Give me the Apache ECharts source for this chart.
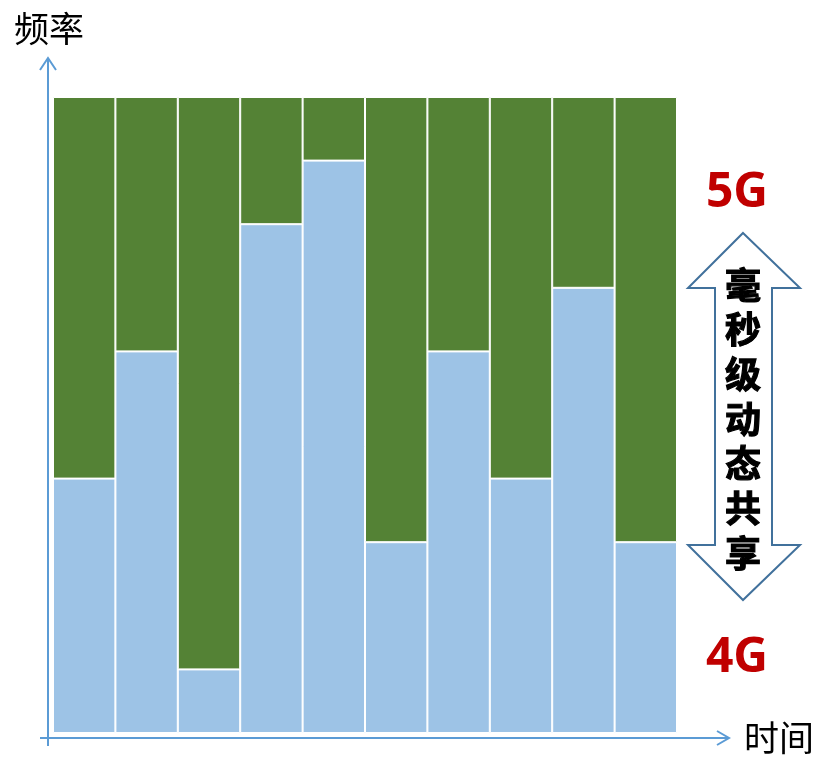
<!DOCTYPE html>
<html>
<head>
<meta charset="utf-8">
<script src="https://cdn.jsdelivr.net/npm/echarts@6/dist/echarts.min.js"></script>
<style>
html,body{margin:0;padding:0;background:#fff;}
#main{width:829px;height:767px;}
</style>
</head>
<body>
<div id="main"></div>
<script>
// 时隙（10个）
var slots = ['1','2','3','4','5','6','7','8','9','10'];
// 4G 占用频率比例
var share4G = [40, 60, 10, 80, 90, 30, 60, 40, 70, 30];
// 5G 占用频率比例
var share5G = [60, 40, 90, 20, 10, 70, 40, 60, 30, 70];
var shareText = ['毫','秒','级','动','态','共','享'];

var axisColor = '#5B9BD5';
var cjk = '"Noto Sans CJK SC", "Noto Sans", sans-serif';

var myChart = echarts.init(document.getElementById('main'));
var option = {
	animation: false,
	backgroundColor: '#fff',
	grid: { left: 53, right: 152, top: 97, bottom: 34 },
	xAxis: {
		type: 'category',
		data: slots,
		axisLine: { show: false },
		axisTick: { show: false },
		axisLabel: { show: false }
	},
	yAxis: {
		type: 'value',
		min: 0,
		max: 100,
		show: false
	},
	series: [
		{
			name: '4G',
			type: 'bar',
			stack: 'f',
			barCategoryGap: 0,
			data: share4G,
			itemStyle: { color: '#9DC3E6', borderColor: '#fff', borderWidth: 1 }
		},
		{
			name: '5G',
			type: 'bar',
			stack: 'f',
			barCategoryGap: 0,
			data: share5G,
			itemStyle: { color: '#548235', borderColor: '#fff', borderWidth: 1 }
		}
	],
	graphic: [
		// 纵轴
		{ type: 'line', shape: { x1: 48, y1: 746, x2: 48, y2: 58 }, style: { stroke: axisColor, lineWidth: 2 } },
		{ type: 'polyline', shape: { points: [[40, 70], [48, 58], [56, 70]] }, style: { stroke: axisColor, lineWidth: 2, fill: null } },
		// 横轴
		{ type: 'line', shape: { x1: 40, y1: 738, x2: 729, y2: 738 }, style: { stroke: axisColor, lineWidth: 2 } },
		{ type: 'polyline', shape: { points: [[717, 731], [729, 738], [717, 745]] }, style: { stroke: axisColor, lineWidth: 2, fill: null } },
		// 轴标题
		{ type: 'text', left: 14, top: 11, style: { text: '频率', font: '35px ' + cjk, fill: '#000' } },
		{ type: 'text', left: 744, top: 720, style: { text: '时间', font: '35px ' + cjk, fill: '#000' } },
		// 5G / 4G
		{ type: 'text', x: 737, y: 193, style: { text: '5G', font: 'bold 48px "Noto Sans", sans-serif', fill: '#C00000', align: 'center', verticalAlign: 'middle' } },
		{ type: 'text', x: 737, y: 658, style: { text: '4G', font: 'bold 48px "Noto Sans", sans-serif', fill: '#C00000', align: 'center', verticalAlign: 'middle' } },
		// 双向箭头
		{
			type: 'polygon',
			shape: { points: [[743, 233], [800, 288], [772, 288], [772, 545], [800, 545], [743, 600], [688, 545], [715, 545], [715, 288], [688, 288]] },
			style: { fill: '#fff', stroke: '#41719C', lineWidth: 2 }
		},
		{
			type: 'text', x: 743, y: 419,
			style: { text: shareText.join('\n'), font: 'bold 36px ' + cjk, lineHeight: 44.7, fill: '#000', stroke: '#000', lineWidth: 1.2, align: 'center', verticalAlign: 'middle' }
		}
	]
};
myChart.setOption(option);
</script>
</body>
</html>
